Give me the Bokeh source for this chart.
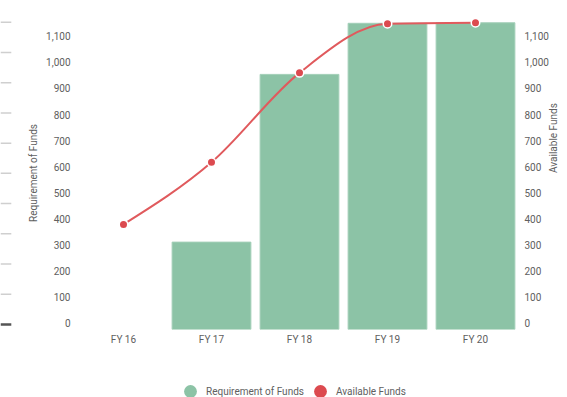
import numpy as np
from bokeh.plotting import figure
from bokeh.layouts import row, column
from bokeh.models import (FactorRange, Range1d, LinearAxis, FixedTicker,
                          NumeralTickFormatter, Legend, LegendItem, ColumnDataSource)
from bokeh.embed import file_html
from bokeh.resources import INLINE

# ---- data -------------------------------------------------------------
fiscal_years = ["FY 16", "FY 17", "FY 18", "FY 19", "FY 20"]
requirement_of_funds = [None, 335, 978, 1174, 1176]
available_funds = [403, 641, 984, 1172, 1176]
value_ticks = [0, 100, 200, 300, 400, 500, 600, 700, 800, 900, 1000, 1100]

# ---- style ------------------------------------------------------------
FONT = "Roboto"
FONT_SIZE = "10px"
TEXT = "#606060"
BAR = "#8cc3a6"
BAR_EDGE = "#a3cfb8"
LINE = "#e05a5d"
DOT = "#dc4a4f"


def monotone_tangents(ys):
    """Tangents of a monotone-x cubic through equally spaced points."""
    y = np.asarray(ys, dtype=float)
    s = np.diff(y)
    t = np.zeros_like(y)
    for i in range(1, len(y) - 1):
        s0, s1 = s[i - 1], s[i]
        p = 0.5 * (s0 + s1)
        t[i] = (np.sign(s0) + np.sign(s1)) * min(abs(s0), abs(s1), 0.5 * abs(p))
    t[0] = (3 * s[0] - t[1]) / 2
    t[-1] = (3 * s[-1] - t[-2]) / 2
    return t


# ---- main chart -------------------------------------------------------
p = figure(
    x_range=FactorRange(*fiscal_years, range_padding=0),
    y_range=Range1d(0, 1200),
    width=555, height=370,
    output_backend="svg", toolbar_location=None,
    y_axis_location=None,
    min_border_left=67, min_border_right=47,
    min_border_top=16, min_border_bottom=41,
)
p.outline_line_color = None
p.grid.visible = False
p.background_fill_color = "white"
p.border_fill_color = "white"

# value labels sit just above their level lines
p.extra_y_ranges = {"labels": Range1d(-24, 1176)}

bars = ColumnDataSource(dict(
    year=fiscal_years,
    req=np.array([np.nan if v is None else v for v in requirement_of_funds], dtype=float),
))
p.vbar(x="year", top="req", bottom=0, width=0.895, source=bars,
       fill_color=BAR, line_color=BAR_EDGE, line_width=1)

# smooth line through the available-funds points
xs = np.arange(len(fiscal_years)) + 0.5
ys = np.asarray(available_funds, dtype=float)
tg = monotone_tangents(ys)
p.bezier(
    x0=xs[:-1], y0=ys[:-1], x1=xs[1:], y1=ys[1:],
    cx0=xs[:-1] + 1 / 3, cy0=ys[:-1] + tg[:-1] / 3,
    cx1=xs[1:] - 1 / 3, cy1=ys[1:] - tg[1:] / 3,
    line_color=LINE, line_width=2,
)
p.scatter(x=fiscal_years, y=available_funds, size=8.5, fill_color=DOT,
          line_color="white", line_width=1.5)

# axes
xa = p.xaxis[0]
xa.axis_line_color = None
xa.major_tick_out = 0
xa.major_tick_in = 0
xa.major_tick_line_color = None
xa.minor_tick_line_color = None
xa.major_label_standoff = 4
xa.major_label_text_font = FONT
xa.major_label_text_font_size = FONT_SIZE
xa.major_label_text_color = TEXT

for side_name, title, standoff, title_gap in (("left", "Requirement of Funds", 9, 4),
                                              ("right", "Available Funds", 5, 2)):
    ax = LinearAxis(y_range_name="labels", axis_label=title,
                    ticker=FixedTicker(ticks=value_ticks),
                    formatter=NumeralTickFormatter(format="0,0"))
    ax.axis_line_color = None
    ax.major_tick_line_color = None
    ax.minor_tick_line_color = None
    ax.major_tick_out = 0
    ax.major_tick_in = 0
    ax.major_label_standoff = standoff
    ax.major_label_text_font = FONT
    ax.major_label_text_font_size = FONT_SIZE
    ax.major_label_text_color = TEXT
    ax.axis_label_standoff = title_gap
    ax.axis_label_text_font = FONT
    ax.axis_label_text_font_size = FONT_SIZE
    ax.axis_label_text_font_style = "normal"
    ax.axis_label_text_color = TEXT
    if side_name == "right":
        try:
            ax.axis_label_orientation = np.pi / 2   # read bottom to top
        except AttributeError:
            pass
    p.add_layout(ax, side_name)

# ---- strip of level marks at the far left -----------------------------
strip = figure(
    width=12, height=370,
    x_range=Range1d(0, 1), y_range=Range1d(-0.165, 10.189),
    x_axis_location=None, y_axis_location=None,
    output_backend="svg", toolbar_location=None, min_border=0,
)
strip.outline_line_color = None
strip.grid.visible = False
levels = np.arange(1, 11)
strip.segment(x0=0, x1=0.9, y0=levels, y1=levels, line_color="#cfcfcf", line_width=1.5)
strip.segment(x0=[0], x1=[0.9], y0=[0], y1=[0], line_color="#555555", line_width=2.5)

# ---- legend row ---------------------------------------------------------
key = figure(
    width=567, height=27, title=None,
    x_range=Range1d(0, 1), y_range=Range1d(0, 1),
    x_axis_location=None, y_axis_location=None,
    output_backend="svg", toolbar_location=None, min_border=0,
)
key.outline_line_color = None
key.grid.visible = False
# swatch renderers: their single point lies outside the key's visible range
req_key = key.scatter(x=[-5], y=[-5], fill_color=BAR, line_color=None)
av_key = key.scatter(x=[-5], y=[-5], fill_color=DOT, line_color=None)
legend = Legend(
    items=[LegendItem(label="Requirement of Funds", renderers=[req_key]),
           LegendItem(label="Available Funds", renderers=[av_key])],
    orientation="horizontal", location=(174, -10),
    glyph_width=32, glyph_height=32, label_standoff=0, spacing=0,
    padding=0, margin=0,
    background_fill_alpha=0, border_line_alpha=0,
    label_text_font=FONT, label_text_font_size=FONT_SIZE, label_text_color=TEXT,
)
key.add_layout(legend)

layout = column(row(strip, p), key)
open("out.html", "w").write(file_html(layout, INLINE))
